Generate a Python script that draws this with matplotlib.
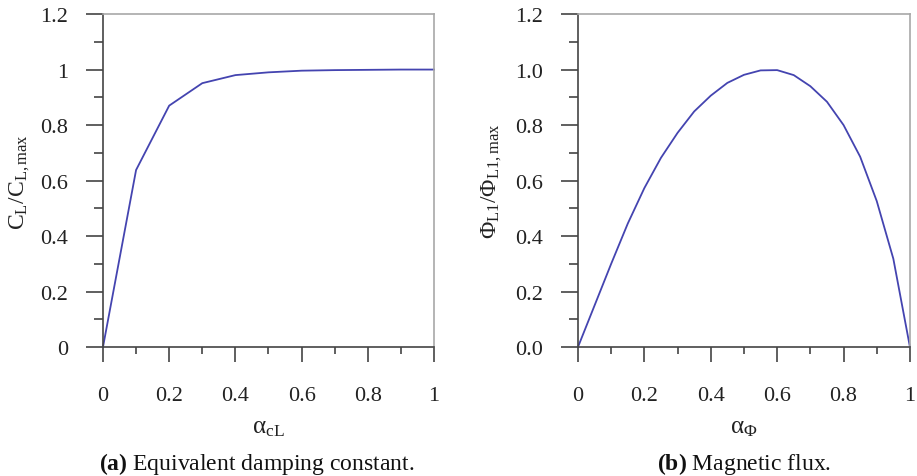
import numpy as np
import matplotlib
matplotlib.use('Agg')
import matplotlib.pyplot as plt
from matplotlib.ticker import MultipleLocator, FormatStrFormatter

plt.rcParams['font.family'] = ['Liberation Serif', 'DejaVu Serif']
plt.rcParams['mathtext.fontset'] = 'custom'
plt.rcParams['mathtext.rm'] = 'Liberation Serif'
plt.rcParams['mathtext.it'] = 'Liberation Serif:italic'
plt.rcParams['mathtext.bf'] = 'Liberation Serif:bold'

# (a) equivalent damping constant vs alpha_cL
alpha_cl = [0.0, 0.1, 0.2, 0.3, 0.4, 0.5, 0.6, 0.7, 0.8, 0.9, 1.0]
cl_ratio = [0.0, 0.638, 0.870, 0.951, 0.980, 0.990, 0.996, 0.998, 0.999, 1.0, 1.0]

# (b) magnetic flux vs alpha_phi
alpha_phi = [0.0, 0.05, 0.1, 0.15, 0.2, 0.25, 0.3, 0.35, 0.4, 0.45, 0.5,
             0.55, 0.6, 0.65, 0.7, 0.75, 0.8, 0.85, 0.9, 0.95, 1.0]
phi_ratio = [0.0, 0.150, 0.300, 0.445, 0.573, 0.682, 0.772, 0.849, 0.906, 0.952, 0.981,
             0.997, 0.998, 0.980, 0.940, 0.884, 0.800, 0.686, 0.526, 0.318, 0.0]

line_col = '#4444b0'
dark = '#444444'
light = '#a8a8a8'

fig = plt.figure(figsize=(9.17, 4.77), dpi=100)
ax1 = fig.add_axes([0.1123, 0.2704, 0.361, 0.698])
ax2 = fig.add_axes([0.6303, 0.2704, 0.362, 0.698])


def style(ax):
    ax.set_xlim(0, 1)
    ax.set_ylim(0, 1.2)
    ax.xaxis.set_major_locator(MultipleLocator(0.2))
    ax.xaxis.set_minor_locator(MultipleLocator(0.1))
    ax.yaxis.set_major_locator(MultipleLocator(0.2))
    ax.yaxis.set_minor_locator(MultipleLocator(0.1))
    ax.xaxis.set_major_formatter(FormatStrFormatter('%g'))
    ax.spines['left'].set_color(dark)
    ax.spines['bottom'].set_color(dark)
    ax.spines['top'].set_color(light)
    ax.spines['right'].set_color(light)
    for s in ax.spines.values():
        s.set_linewidth(1.2)
    ax.tick_params(axis='y', which='major', direction='out', length=12.2, width=1.2,
                   color=dark, pad=13, labelsize=16, labelcolor='#222222')
    ax.tick_params(axis='y', which='minor', direction='out', length=6.5, width=1.2, color=dark)
    ax.tick_params(axis='x', which='major', direction='out', length=10.8, width=1.2,
                   color=dark, pad=17, labelsize=16, labelcolor='#222222')
    ax.tick_params(axis='x', which='minor', direction='out', length=5, width=1.2, color=dark)


ax1.plot(alpha_cl, cl_ratio, color=line_col, lw=1.3, clip_on=False)
style(ax1)
ax1.yaxis.set_major_formatter(FormatStrFormatter('%g'))
ax1.set_xlabel(r'$\mathrm{α_{cL}}$', fontsize=18, labelpad=8, color='#222222')
ax1.set_ylabel(r'$\mathrm{C_L/C_{L,max}}$', fontsize=17, labelpad=6, color='#222222')

ax2.plot(alpha_phi, phi_ratio, color=line_col, lw=1.3, clip_on=False)
style(ax2)
ax2.yaxis.set_major_formatter(FormatStrFormatter('%.1f'))
ax2.set_xlabel(r'$\mathrm{α_{Φ}}$', fontsize=18, labelpad=8, color='#222222')
ax2.set_ylabel(r'$\mathrm{Φ_{L1}/Φ_{L1,max}}$', fontsize=17, labelpad=8, color='#222222')

fig.text(0.280, 0.014, r'$\mathbf{(a)}$ Equivalent damping constant.', ha='center',
         fontsize=17, color='#111111')
fig.text(0.8115, 0.014, r'$\mathbf{(b)}$ Magnetic flux.', ha='center',
         fontsize=17, color='#111111')

fig.savefig('out.png', dpi=100)
